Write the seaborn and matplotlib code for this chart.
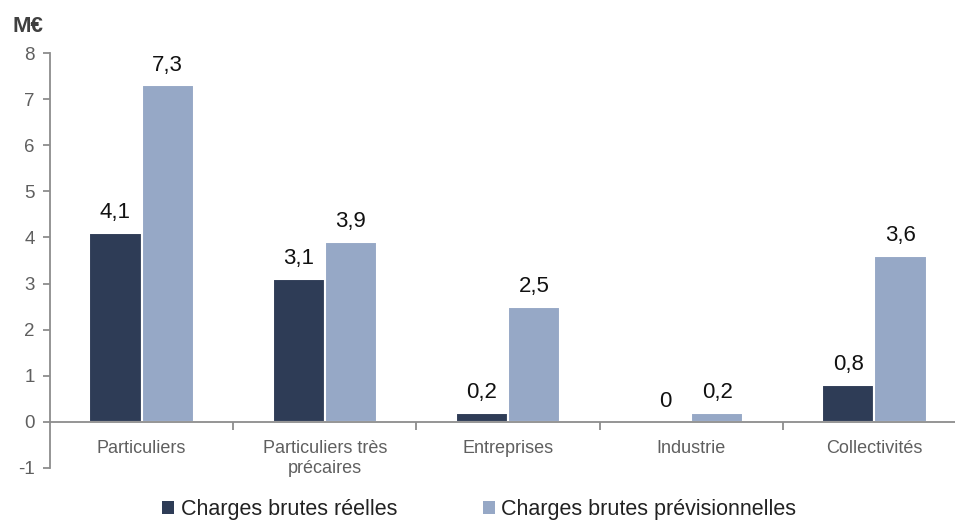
import matplotlib
matplotlib.use("Agg")
import matplotlib.pyplot as plt
import seaborn as sns
import pandas as pd
from matplotlib.ticker import FixedLocator, NullFormatter
from matplotlib.patches import Patch

categories = ["Particuliers", "Particuliers très\nprécaires", "Entreprises", "Industrie", "Collectivités"]
reelles = [4.1, 3.1, 0.2, 0.0, 0.8]
previsionnelles = [7.3, 3.9, 2.5, 0.2, 3.6]
series_names = ["Charges brutes réelles", "Charges brutes prévisionnelles"]
y_ticks = [-1, 0, 1, 2, 3, 4, 5, 6, 7, 8]

colors = ["#2E3C56", "#96A8C6"]
grey = "#5f5f5f"

sns.set_theme(style="white")
plt.rcParams["font.family"] = ["Liberation Sans", "DejaVu Sans"]

df = pd.DataFrame({
    "cat": categories * 2,
    "val": reelles + previsionnelles,
    "serie": [series_names[0]] * len(categories) + [series_names[1]] * len(categories),
})

fig = plt.figure(figsize=(9.55, 5.22), dpi=100)
W, H = 955, 522
ax = fig.add_axes([50 / W, 54 / H, 916 / W, 415 / H])

sns.barplot(data=df, x="cat", y="val", hue="serie", palette=colors, order=categories,
            hue_order=series_names, width=0.57, edgecolor="white", linewidth=1.5,
            saturation=1, legend=False, ax=ax)

ax.set_ylim(-1, 8)
ax.set_xlim(-0.5, len(categories) - 0.5)
ax.set_yticks(y_ticks)
ax.set_yticklabels([str(t) for t in y_ticks])
ax.set_xlabel("")
ax.set_ylabel("")

for side in ["top", "right"]:
    ax.spines[side].set_visible(False)
ax.spines["left"].set_color("#8c8c8c")
ax.spines["left"].set_linewidth(1.3)
ax.spines["bottom"].set_position(("data", 0))
ax.spines["bottom"].set_color("#8c8c8c")
ax.spines["bottom"].set_linewidth(1.3)

ax.tick_params(axis="y", which="major", direction="out", length=5, width=1.3,
               color="#8c8c8c", labelsize=13.5, labelcolor=grey, pad=6, left=True)
ax.tick_params(axis="x", which="major", length=0, labelsize=13, labelcolor=grey, pad=13)
ax.xaxis.set_minor_locator(FixedLocator([i + 0.5 for i in range(len(categories) - 1)]))
ax.xaxis.set_minor_formatter(NullFormatter())
ax.tick_params(axis="x", which="minor", direction="out", length=6, width=1.3,
               color="#8c8c8c", bottom=True)
ax.grid(False)

# value labels above each bar
for container, vals in zip(ax.containers, [reelles, previsionnelles]):
    labels = [f"{v:g}".replace(".", ",") for v in vals]
    ax.bar_label(container, labels=labels, padding=7, fontsize=16, color="#111111")

fig.text(12 / W, 1 - 27 / H, "M€", fontsize=16, fontweight="bold", color="#404040",
         va="center", ha="left")

handles = [Patch(facecolor=c, edgecolor="none") for c in colors]
fig.legend(handles, series_names, loc="center", bbox_to_anchor=(0.502, 1 - 510 / H),
           ncol=2, frameon=False, fontsize=15.5, handlelength=0.55, handleheight=0.55,
           handletextpad=0.3, columnspacing=4.0, labelcolor="#222222")

fig.savefig("out.png", dpi=100)
